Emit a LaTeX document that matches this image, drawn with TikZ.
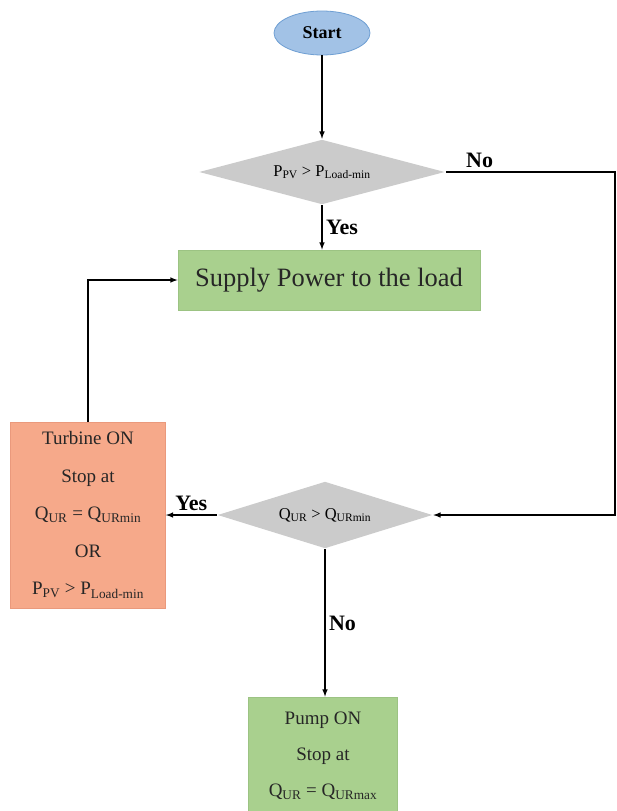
\documentclass[tikz,border=0pt]{standalone}
\usepackage{fontspec}
\setmainfont{Liberation Serif}
\usetikzlibrary{shapes.geometric}
\definecolor{startblue}{HTML}{A2C2E6}
\definecolor{startedge}{HTML}{6F9FD3}
\definecolor{decgray}{HTML}{CBCBCB}
\definecolor{boxgreen}{HTML}{A9D08E}
\definecolor{greenedge}{HTML}{9CC383}
\definecolor{boxsalmon}{HTML}{F6A98A}
\definecolor{salmonedge}{HTML}{EA997C}
\newcommand{\lowtxt}[1]{\textsubscript{#1}}

\begin{document}
\begin{tikzpicture}[x=1pt, y=-1pt, line width=1.5pt,
  startnode/.style={ellipse, draw=startedge, line width=0.8pt, fill=startblue, minimum width=96pt, minimum height=44pt, inner sep=0pt, font=\fontsize{18}{20}\selectfont\bfseries},
  decide/.style={diamond, fill=decgray, inner sep=0pt, aspect=3.7, font=\fontsize{16.5}{18}\selectfont},
  procbox/.style={rectangle, line width=0.8pt, inner sep=0pt, align=center, text=black!85},
  lbl/.style={font=\fontsize{22}{24}\selectfont\bfseries}]
\clip (0,0) rectangle (617,811);
\useasboundingbox (0,0) rectangle (617,811);

\node [startnode] (start) at (322,33) {Start};
\node [decide, minimum width=246pt, minimum height=65pt] (dec1) at (322,172) {P\lowtxt{PV} > P\lowtxt{Load-min}};
\node [procbox, draw=greenedge, fill=boxgreen, minimum width=302pt, minimum height=60pt, font=\fontsize{26.5}{29}\selectfont] (supply) at (329,280) {Supply Power to the load};
\node [decide, minimum width=215pt, minimum height=67pt] (dec2) at (325,515) {Q\lowtxt{UR} > Q\lowtxt{URmin}};
\node [procbox, draw=salmonedge, fill=boxsalmon, minimum width=155pt, minimum height=186pt, font=\fontsize{19}{37.5}\selectfont] (turbine) at (88,515)
  {Turbine ON\\Stop at\\Q\lowtxt{UR} = Q\lowtxt{URmin}\\OR\\P\lowtxt{PV} > P\lowtxt{Load-min}};
\node [procbox, draw=greenedge, fill=boxgreen, minimum width=149pt, minimum height=118pt, font=\fontsize{19}{36}\selectfont] (pump) at (323,756)
  {Pump ON\\Stop at\\Q\lowtxt{UR} = Q\lowtxt{URmax}};
\coordinate (rturn) at (615,172);

\draw [-latex] (start) -- (dec1);
\draw [-latex] (dec1.south) -- node[lbl, right]{Yes} (dec1.south |- supply.north);
\draw [-latex] (dec1.east) -- node[lbl, pos=0.2, above]{No} (rturn) |- (dec2.east);
\draw [-latex] (dec2.west) -- node[lbl, above]{Yes} (turbine.east);
\draw [-latex] (turbine.north) |- (supply.west);
\draw [-latex] (dec2.south) -- node[lbl, right]{No} (dec2.south |- pump.north);
\end{tikzpicture}
\end{document}
